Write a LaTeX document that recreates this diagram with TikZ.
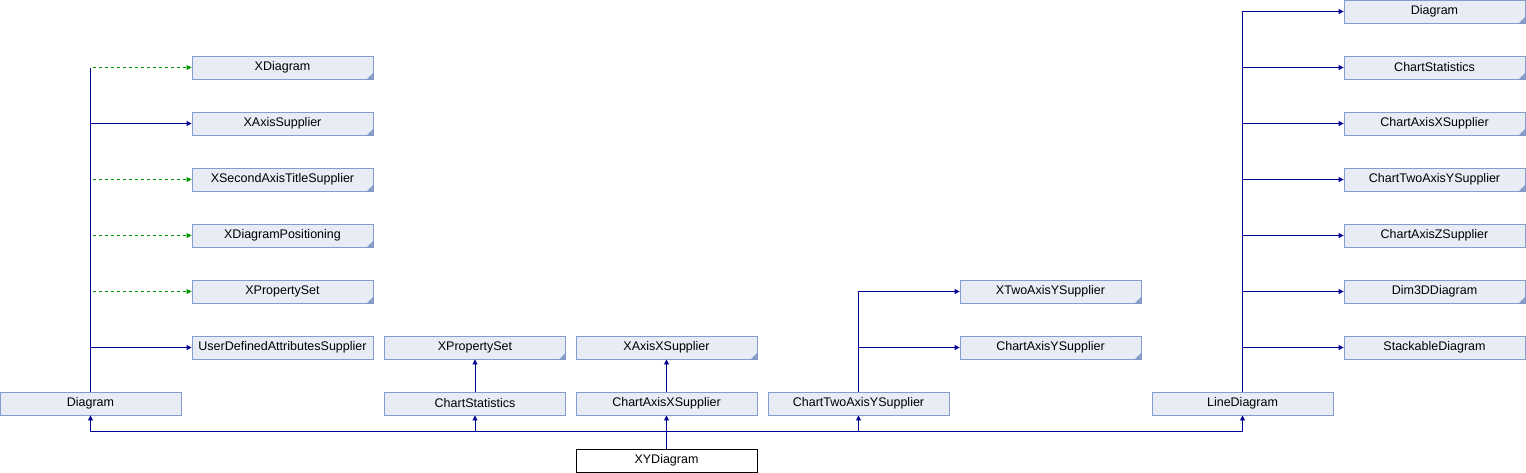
\documentclass[tikz,border=0pt]{standalone}
\usepackage{fontspec}
\setmainfont{Liberation Sans}
\usetikzlibrary{arrows.meta}
\definecolor{boxfill}{RGB}{232,236,245}
\definecolor{boxline}{RGB}{132,155,204}
\definecolor{inhblue}{RGB}{0,0,150}
\definecolor{usegreen}{RGB}{0,150,0}
\tikzset{cls/.style={rectangle,draw=boxline,fill=boxfill,line width=0.9pt,minimum width=181pt,minimum height=23pt,inner sep=0pt,font=\fontsize{12.5}{14}\selectfont},
    ext/.style={cls,path picture={\fill[boxline] (path picture bounding box.south east) -- ++(-6pt,0) -- ++(6pt,6pt) -- cycle;}},
    main/.style={cls,draw=black,fill=white},
    trunk/.style={draw=inhblue,line width=0.9pt},
    inh/.style={trunk,-{Triangle[length=5pt,width=5pt]}},
    iface/.style={inh,draw=usegreen,dashed}}

\begin{document}
\begin{tikzpicture}[x=1pt,y=-1pt]
        \useasboundingbox (0,0) rectangle (1526,472);
        % bottom row
        \node[main] (xy) at (666.5,460.5) {XYDiagram};
        \node[cls] (diag) at (90.5,403.5) {Diagram};
        \node[cls] (cstat) at (475,403.5) {ChartStatistics};
        \node[cls] (caxx) at (666.5,403.5) {ChartAxisXSupplier};
        \node[cls] (ctwoy) at (858.5,403.5) {ChartTwoAxisYSupplier};
        \node[cls] (linediag) at (1242.5,403.5) {LineDiagram};
        % bases of Diagram
        \node[ext] (xdiag) at (282.5,67.5) {XDiagram};
        \node[ext] (xaxis) at (282.5,123.5) {XAxisSupplier};
        \node[ext] (xsecond) at (282.5,179.5) {XSecondAxisTitleSupplier};
        \node[ext] (xdiagpos) at (282.5,235.5) {XDiagramPositioning};
        \node[ext] (xprop) at (282.5,291.5) {XPropertySet};
        \node[cls] (userdef) at (282.5,347.5) {UserDefinedAttributesSupplier};
        % bases of the middle classes
        \node[ext] (xpropstat) at (475,347.5) {XPropertySet};
        \node[ext] (xaxisx) at (666.5,347.5) {XAxisXSupplier};
        \node[ext] (xtwoy) at (1050.5,291.5) {XTwoAxisYSupplier};
        \node[ext] (caxy) at (1050.5,347.5) {ChartAxisYSupplier};
        % bases of LineDiagram
        \node[ext] (rdiag) at (1434.5,11.5) {Diagram};
        \node[ext] (rstat) at (1434.5,67.5) {ChartStatistics};
        \node[ext] (raxx) at (1434.5,123.5) {ChartAxisXSupplier};
        \node[ext] (rtwoy) at (1434.5,179.5) {ChartTwoAxisYSupplier};
        \node[cls] (raxz) at (1434.5,235.5) {ChartAxisZSupplier};
        \node[ext] (rdim) at (1434.5,291.5) {Dim3DDiagram};
        \node[cls] (rstack) at (1434.5,347.5) {StackableDiagram};

        \foreach \b in {diag,cstat,caxx,ctwoy,linediag}
            \draw[inh] (xy.north) -- ++(0,-17) -| (\b.south);
        \draw[trunk] (diag.north) -- (diag.north |- xdiag.west);
        \foreach \b in {xdiag,xsecond,xdiagpos,xprop}
            \draw[iface] ([xshift=2pt]diag.north |- \b.west) -- (\b.west);
        \foreach \b in {xaxis,userdef}
            \draw[inh] (diag.north) |- (\b.west);
        \draw[inh] (cstat.north) -- (xpropstat.south);
        \draw[inh] (caxx.north) -- (xaxisx.south);
        \foreach \b in {xtwoy,caxy}
            \draw[inh] (ctwoy.north) |- (\b.west);
        \foreach \b in {rdiag,rstat,raxx,rtwoy,raxz,rdim,rstack}
            \draw[inh] (linediag.north) |- (\b.west);
    \end{tikzpicture}
\end{document}
